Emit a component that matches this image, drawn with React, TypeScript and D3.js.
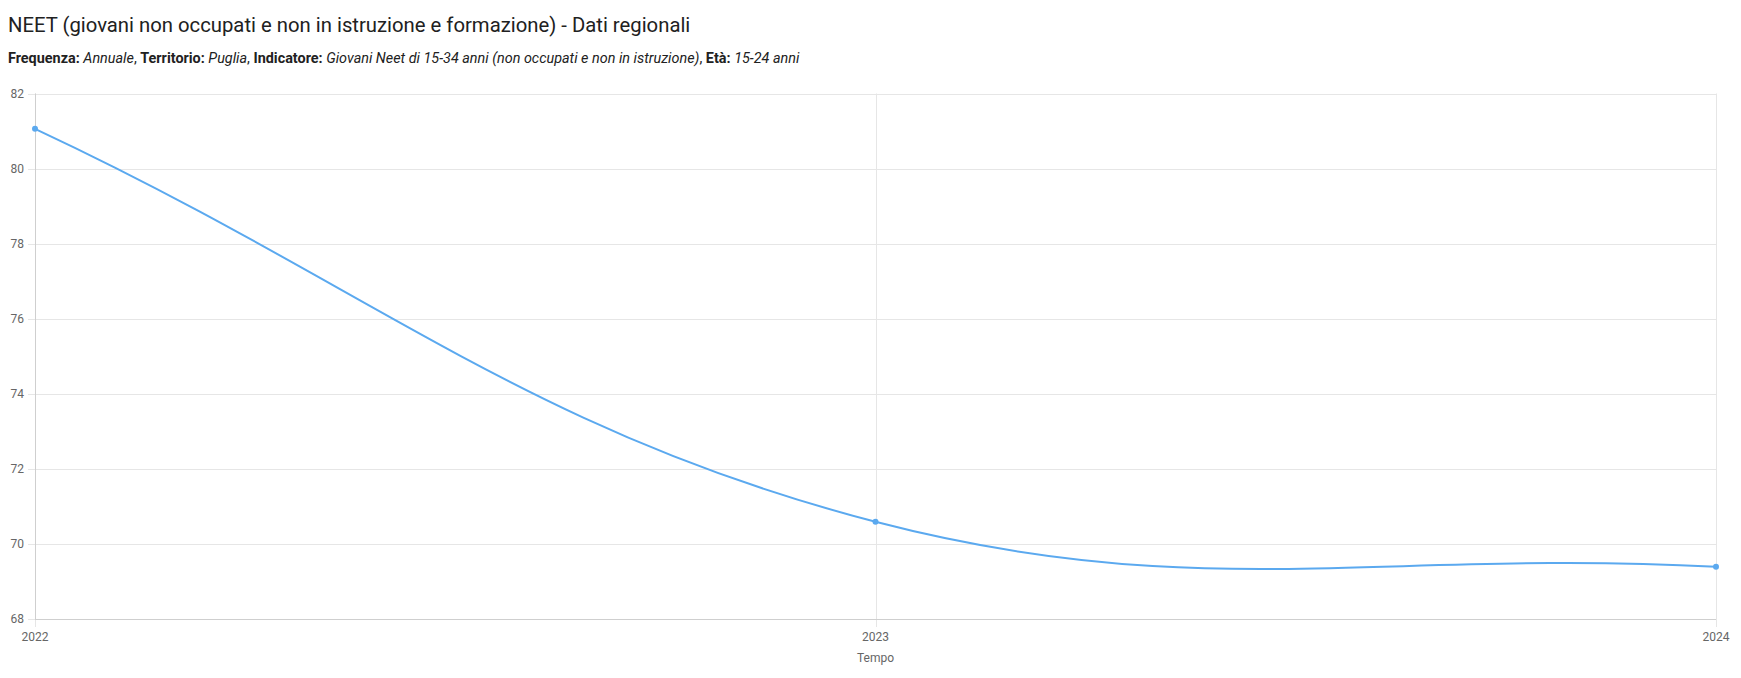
import React from "react";
import * as d3 from "d3";

const years = ["2022", "2023", "2024"];
const values = [81.06, 70.59, 69.39];
const yTicks = [68, 70, 72, 74, 76, 78, 80, 82];

const title = "NEET (giovani non occupati e non in istruzione e formazione) - Dati regionali";
const subtitle: [string, string][] = [
  ["Frequenza: ", "b"],
  ["Annuale", "i"],
  [", ", "n"],
  ["Territorio: ", "b"],
  ["Puglia", "i"],
  [", ", "n"],
  ["Indicatore: ", "b"],
  ["Giovani Neet di 15-34 anni (non occupati e non in istruzione)", "i"],
  [", ", "n"],
  ["Età: ", "b"],
  ["15-24 anni", "i"],
];
const xTitle = "Tempo";

const W = 1741;
const H = 678;
const margin = { top: 93.5, right: 25, bottom: 59, left: 35 };

// chart.js style spline (tension 0.4) between pixel points
function splinePath(pts: [number, number][], tension: number, area: { x0: number; x1: number; y0: number; y1: number }) {
  const cps = pts.map((p, i) => {
    const prev = pts[i - 1] || p;
    const next = pts[i + 1] || p;
    const d01 = Math.hypot(p[0] - prev[0], p[1] - prev[1]);
    const d12 = Math.hypot(next[0] - p[0], next[1] - p[1]);
    let s01 = d01 / (d01 + d12);
    let s12 = d12 / (d01 + d12);
    s01 = isNaN(s01) ? 0 : s01;
    s12 = isNaN(s12) ? 0 : s12;
    const fa = tension * s01;
    const fb = tension * s12;
    const clampX = (v: number) => Math.max(area.x0, Math.min(area.x1, v));
    const clampY = (v: number) => Math.max(area.y0, Math.min(area.y1, v));
    return {
      prev: [clampX(p[0] - fa * (next[0] - prev[0])), clampY(p[1] - fa * (next[1] - prev[1]))],
      next: [clampX(p[0] + fb * (next[0] - prev[0])), clampY(p[1] + fb * (next[1] - prev[1]))],
    };
  });
  const path = d3.path();
  pts.forEach((p, i) => {
    if (i === 0) path.moveTo(p[0], p[1]);
    else path.bezierCurveTo(cps[i - 1].next[0], cps[i - 1].next[1], cps[i].prev[0], cps[i].prev[1], p[0], p[1]);
  });
  return path.toString();
}

export default function App() {
  const x = d3
    .scalePoint<string>()
    .domain(years)
    .range([margin.left, W - margin.right]);
  const y = d3
    .scaleLinear()
    .domain([68, 82])
    .range([H - margin.bottom, margin.top]);

  const pts: [number, number][] = years.map((yr, i) => [x(yr) as number, y(values[i])]);
  const d = splinePath(pts, 0.4, { x0: margin.left, x1: W - margin.right, y0: margin.top, y1: H - margin.bottom });

  const bottom = H - margin.bottom;

  return (
    <svg width={W} height={H} style={{ position: "absolute", left: 0, top: 0, fontFamily: "Roboto, sans-serif" }}>
      <rect width={W} height={H} fill="#fff" />
      <text x={8} y={31.5} fontSize={20.3} fill="#212121">
        {title}
      </text>
      <text x={8} y={63} fontSize={14.4} fill="#212121">
        {subtitle.map(([t, s], i) => (
          <tspan key={i} fontWeight={s === "b" ? 700 : 400} fontStyle={s === "i" ? "italic" : "normal"}>
            {t}
          </tspan>
        ))}
      </text>

      {/* grid */}
      <g stroke="#e6e6e6" strokeWidth={1}>
        {yTicks.map((t) => (
          <line key={t} x1={margin.left - 7} x2={W - margin.right} y1={Math.round(y(t)) + 0.5} y2={Math.round(y(t)) + 0.5} />
        ))}
        {years.map((yr) => (
          <line key={yr} x1={Math.round(x(yr) as number) + 0.5} x2={Math.round(x(yr) as number) + 0.5} y1={margin.top} y2={bottom + 8} />
        ))}
      </g>
      {/* axis lines */}
      <g stroke="#cfcfcf" strokeWidth={1}>
        <line x1={margin.left + 0.5} x2={margin.left + 0.5} y1={margin.top} y2={bottom} />
        <line x1={margin.left} x2={W - margin.right} y1={Math.round(bottom) + 0.5} y2={Math.round(bottom) + 0.5} />
      </g>

      {/* y labels */}
      <g fontSize={12} fill="#666" textAnchor="end">
        {yTicks.map((t) => (
          <text key={t} x={margin.left - 11} y={y(t)} dy="0.35em">
            {t}
          </text>
        ))}
      </g>
      {/* x labels */}
      <g fontSize={12} fill="#666" textAnchor="middle">
        {years.map((yr) => (
          <text key={yr} x={x(yr) as number} y={bottom + 18} dy="0.35em">
            {yr}
          </text>
        ))}
        <text x={(margin.left + W - margin.right) / 2} y={bottom + 39} dy="0.35em">
          {xTitle}
        </text>
      </g>

      {/* series */}
      <path d={d} fill="none" stroke="#5ba9ef" strokeWidth={2} />
      {pts.map((p, i) => (
        <circle key={i} cx={p[0]} cy={p[1]} r={3} fill="#5ba9ef" />
      ))}
    </svg>
  );
}
